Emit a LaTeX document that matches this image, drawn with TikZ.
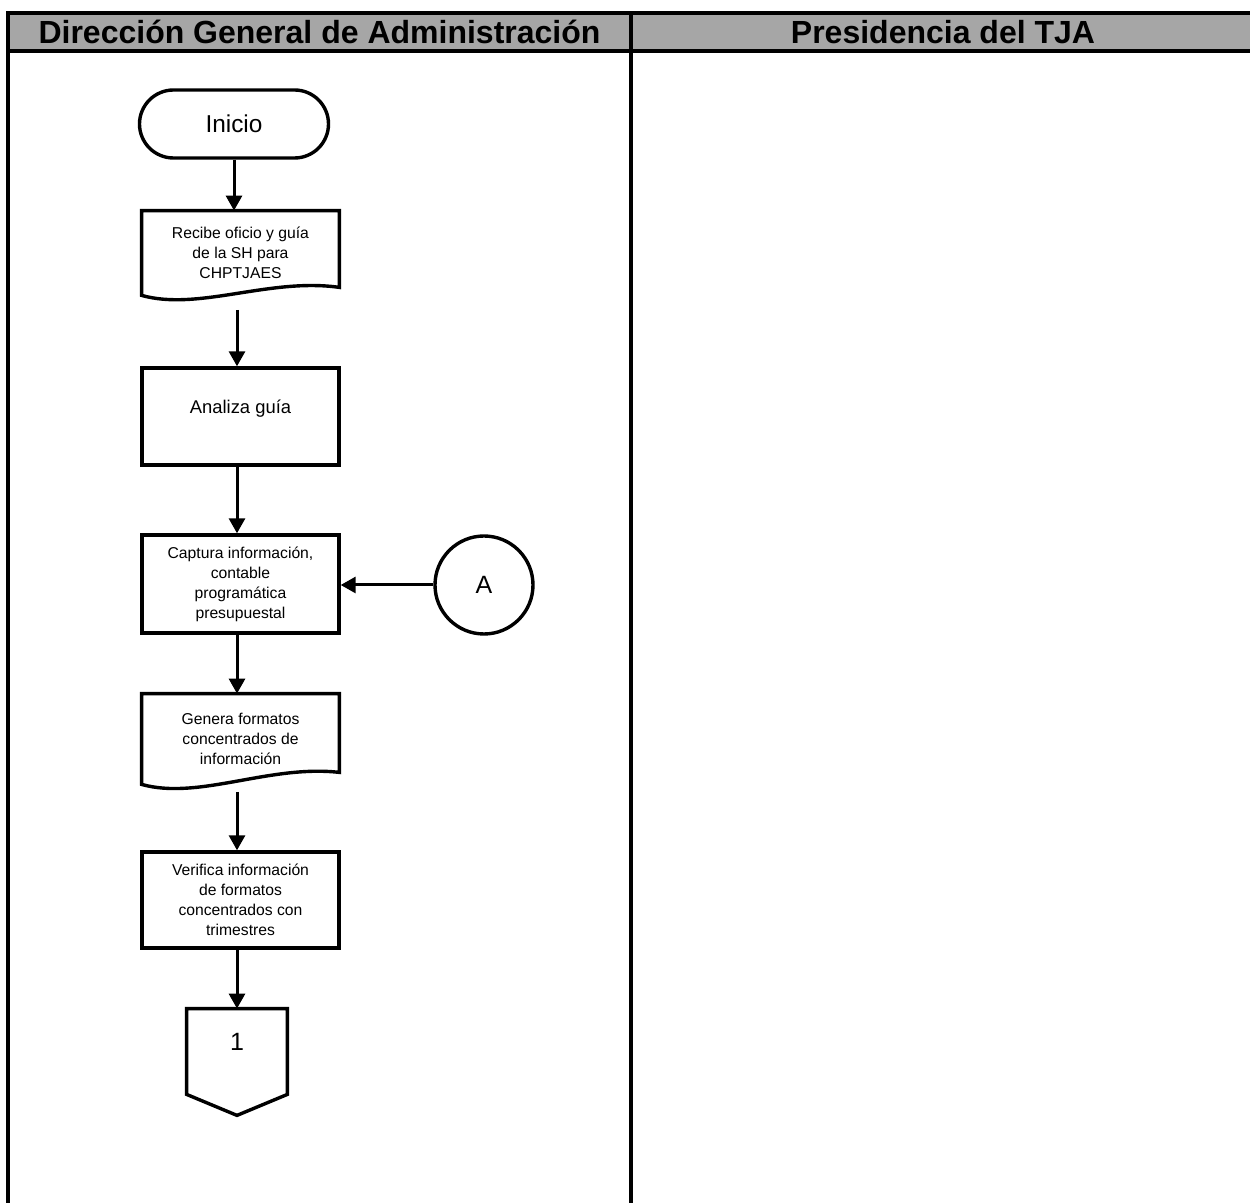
\documentclass[tikz,border=0pt]{standalone}
\usepackage{fontspec}
\setmainfont{Liberation Sans}
\usetikzlibrary{arrows.meta,shapes.misc,calc}
\definecolor{hdrgray}{RGB}{166,166,166}

\begin{document}
\begin{tikzpicture}[x=0.5pt,y=-0.5pt,
  lane/.style={line width=1.7pt},
  hdr/.style={font=\fontsize{16}{19}\bfseries\selectfont, inner sep=0pt},
  stroke/.style={draw, line width=1.7pt},
  small/.style={font=\fontsize{7.85}{10}\selectfont, align=center},
  procbox/.style={stroke, small, minimum width=98.5pt, inner sep=0pt},
  docbox/.style={small, minimum width=98.5pt, inner sep=0pt},
  term/.style={stroke, rounded rectangle, minimum width=94.5pt, minimum height=34pt,
    inner sep=0pt, font=\fontsize{12.2}{14}\selectfont},
  conn/.style={stroke, circle, minimum size=49pt, inner sep=0pt, font=\fontsize{12.5}{14}\selectfont},
  arr/.style={line width=1.5pt, -{Triangle[length=7.5pt,width=8pt]}},
]
\useasboundingbox (0,0) rectangle (1250,1203);
\clip (0,0) rectangle (1250,1203);

% swimlane table with grey header row
\fill[hdrgray] (8,13) rectangle (1262,51);
\draw[lane] (8,1215) -- (8,13) -- (1262,13);
\draw[lane] (8,51) -- (1262,51);
\draw[lane] (631,13) -- (631,1215);
\node[hdr] (h1) at (319.5,32) {Dirección General de Administración};
\node[hdr] (h2) at (943,32) {Presidencia del TJA};

% flow
\node[term] (ini) at (234,124) {Inicio};

\node[docbox, minimum height=42pt] (doc1) at (240.5,253)
  {Recibe oficio y guía\\de la SH para\\CHPTJAES};
\draw[stroke] (doc1.north west) -- (doc1.north east) -- ([yshift=4pt]doc1.south east)
  .. controls ([xshift=-35pt,yshift=9pt]doc1.south east) and ([xshift=28.5pt,yshift=-8pt]doc1.south west)
  .. (doc1.south west) -- cycle;
\coordinate (doc1out) at (237,310);

\node[procbox, minimum height=48.5pt, text depth=9.5pt, font=\fontsize{9.2}{11}\selectfont] (ana) at (240.5,416.5) {Analiza guía};

\node[procbox, minimum height=49pt] (cap) at (240.5,584)
  {Captura información,\\contable\\programática\\presupuestal};
\node[conn] (A) at (484,585) {A};

\node[docbox, minimum height=45pt] (doc2) at (240.5,739)
  {Genera formatos\\concentrados de\\información};
\draw[stroke] (doc2.north west) -- (doc2.north east) -- ([yshift=6pt]doc2.south east)
  .. controls ([xshift=-35pt,yshift=10pt]doc2.south east) and ([xshift=28.5pt,yshift=-8pt]doc2.south west)
  .. (doc2.south west) -- cycle;
\coordinate (doc2out) at (237,792);

\node[procbox, minimum height=48pt] (ver) at (240.5,900)
  {Verifica información\\de formatos\\concentrados con\\trimestres};

% off-page connector
\node[minimum width=50pt, minimum height=42.5pt, inner sep=0pt, text depth=9.5pt,
  font=\fontsize{12.5}{14}\selectfont] (off) at (237,1051.5) {1};
\draw[stroke] (off.south west) -- (off.north west) -- (off.north east)
  -- (off.south east) -- ([yshift=-10.5pt]off.south) -- cycle;

% connectors
\draw[arr] (ini.south) -- (ini.south |- doc1.north);
\draw[arr] (doc1out) -- (doc1out |- ana.north);
\draw[arr] (ana.south -| off.north) -- (cap.north -| off.north);
\draw[arr] (A.west) -- (A.west -| cap.east);
\draw[arr] (cap.south -| off.north) -- (doc2.north -| off.north);
\draw[arr] (doc2out) -- (doc2out |- ver.north);
\draw[arr] (ver.south -| off.north) -- (off.north);
\end{tikzpicture}
\end{document}
